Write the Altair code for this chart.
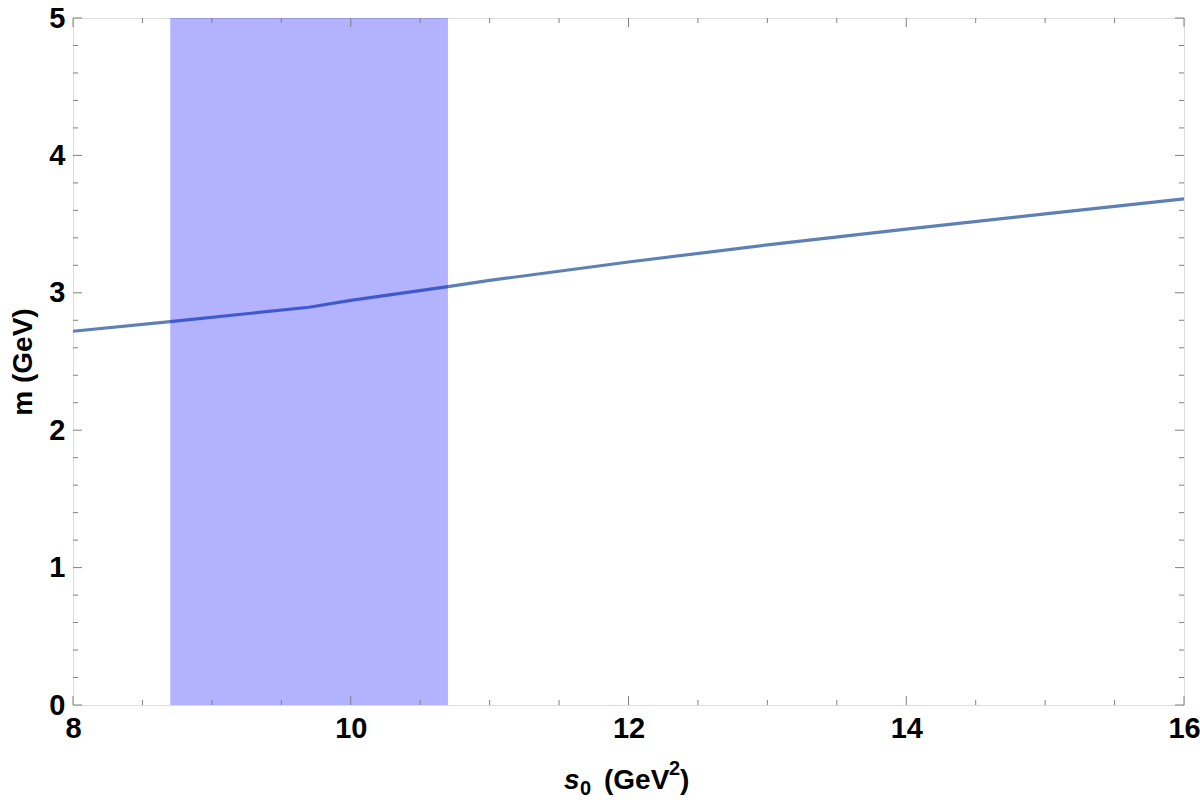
import altair as alt
import pandas as pd

# ---- data ----
s0_values = [8.0, 8.7, 9.7, 10.0, 10.7, 11.0, 12.0, 13.0, 14.0, 15.0, 16.0]
m_values = [2.72, 2.79, 2.895, 2.945, 3.045, 3.09, 3.224, 3.349, 3.463, 3.575, 3.683]

band_start = [8.7]
band_end = [10.7]

x_label_ticks = [8, 10, 12, 14, 16]
y_label_ticks = [0, 1, 2, 3, 4, 5]
x_minor_ticks = [8.5, 9, 9.5, 10.5, 11, 11.5, 12.5, 13, 13.5, 14.5, 15, 15.5]
y_minor_ticks = [0.2, 0.4, 0.6, 0.8, 1.2, 1.4, 1.6, 1.8, 2.2, 2.4, 2.6, 2.8,
                 3.2, 3.4, 3.6, 3.8, 4.2, 4.4, 4.6, 4.8]

W, H = 1111, 687
FONT = "Liberation Sans"
TICK_COLOR = "#808080"
LABEL_SIZE = 29
TITLE_SIZE = 28
SUB_SIZE = 20

xs = alt.Scale(domain=[8, 16], nice=False, zero=False)
ys = alt.Scale(domain=[0, 5], nice=False, zero=False)
xaxis = alt.Axis(values=x_label_ticks, title=None, grid=False, domain=False, ticks=False,
                 labelFontSize=LABEL_SIZE, labelFontWeight="bold", labelFont=FONT, labelColor="black",
                 labelPadding=9, labelFlush=False, labelOverlap=False)
yaxis = alt.Axis(values=y_label_ticks, title="m (GeV)", grid=False, domain=False, ticks=False,
                 labelFontSize=LABEL_SIZE, labelFontWeight="bold", labelFont=FONT, labelColor="black",
                 labelPadding=8, labelFlush=False, labelOverlap=False,
                 titleFontSize=TITLE_SIZE, titleFontWeight="bold", titleFont=FONT, titleColor="black",
                 titlePadding=11)

line_df = pd.DataFrame({"s0": s0_values, "m": m_values})
line = alt.Chart(line_df).mark_line(color="#5e81b5", strokeWidth=3.2).encode(
    x=alt.X("s0:Q", scale=xs, axis=xaxis),
    y=alt.Y("m:Q", scale=ys, axis=yaxis),
)

band_df = pd.DataFrame({"a": band_start, "b": band_end})
band = alt.Chart(band_df).mark_rect(color="#0000ff", opacity=0.3).encode(
    x=alt.X("a:Q", scale=xs, axis=xaxis),
    x2="b:Q",
    y=alt.value(0),
    y2=alt.value(H),
)

def xticks(vals, length):
    df = pd.DataFrame({"t": vals})
    bottom = alt.Chart(df).mark_rule(color=TICK_COLOR, strokeWidth=1).encode(
        x=alt.X("t:Q", scale=xs, axis=xaxis), y=alt.value(H), y2=alt.value(H - length))
    top = alt.Chart(df).mark_rule(color=TICK_COLOR, strokeWidth=1).encode(
        x=alt.X("t:Q", scale=xs, axis=xaxis), y=alt.value(0), y2=alt.value(length))
    return [bottom, top]

def yticks(vals, length):
    df = pd.DataFrame({"t": vals})
    left = alt.Chart(df).mark_rule(color=TICK_COLOR, strokeWidth=1).encode(
        y=alt.Y("t:Q", scale=ys, axis=yaxis), x=alt.value(0), x2=alt.value(length))
    right = alt.Chart(df).mark_rule(color=TICK_COLOR, strokeWidth=1).encode(
        y=alt.Y("t:Q", scale=ys, axis=yaxis), x=alt.value(W), x2=alt.value(W - length))
    return [left, right]

tick_layers = (xticks(x_label_ticks, 9) + xticks(x_minor_ticks, 5)
               + yticks(y_label_ticks, 9) + yticks(y_minor_ticks, 5))

def txt(s, x, y, size, style="normal"):
    return alt.Chart(pd.DataFrame({"t": [s]})).mark_text(
        font=FONT, fontSize=size, fontWeight="bold", fontStyle=style, color="black",
        align="left", baseline="alphabetic").encode(
        x=alt.value(x), y=alt.value(y), text="t:N")

title_parts = [
    txt("s", 491, 771, TITLE_SIZE, "italic"),
    txt("0", 507, 777, SUB_SIZE),
    txt("(GeV", 531, 771, TITLE_SIZE),
    txt("2", 596, 757, SUB_SIZE),
    txt(")", 607, 771, TITLE_SIZE),
]

chart = alt.layer(line, band, *tick_layers, *title_parts).properties(
    width=W, height=H,
    autosize=alt.AutoSizeParams(type="none"),
    padding={"left": 73, "top": 18, "right": 16, "bottom": 95},
).configure_view(stroke=TICK_COLOR, strokeWidth=1).configure(background="white")

chart.save("out.html", embed_options={"renderer": "svg", "actions": False})
